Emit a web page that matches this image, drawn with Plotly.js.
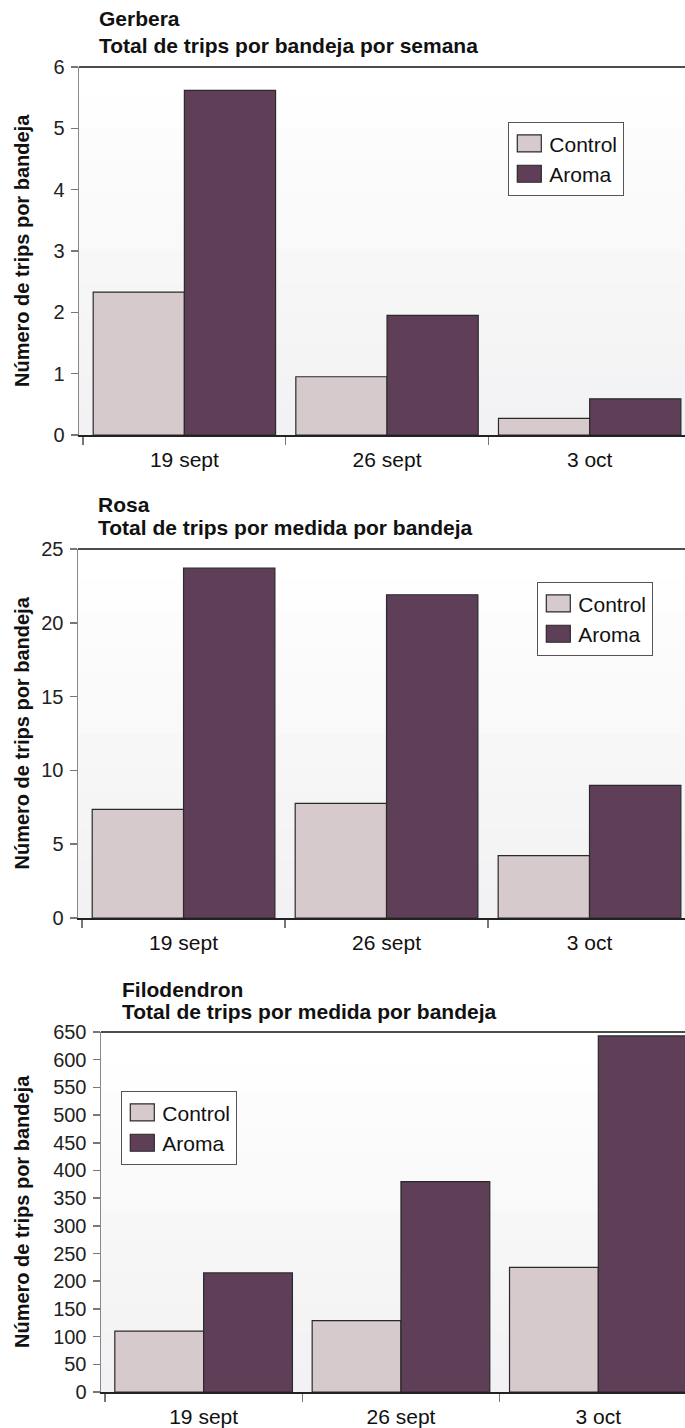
<!DOCTYPE html>
<html><head><meta charset="utf-8">
<script src="https://cdn.plot.ly/plotly-3.0.1.min.js"></script>
<style>html,body{margin:0;padding:0;overflow:hidden;background:#fff}</style>
</head><body><div id="chart" style="width:700px;height:1428px"></div>
<script>
// ---- data ----
const categories = ['19 sept', '26 sept', '3 oct'];
const seriesNames = ['Control', 'Aroma'];
const gerberaControl = [2.33, 0.95, 0.27];
const gerberaAroma = [5.62, 1.95, 0.59];
const rosaControl = [7.36, 7.77, 4.22];
const rosaAroma = [23.7, 21.9, 8.99];
const filoControl = [110, 129, 225];
const filoAroma = [215, 380, 643];
const panelTitles = ['Gerbera', 'Rosa', 'Filodendron'];
const panelSubtitles = ['Total de trips por bandeja por semana', 'Total de trips por medida por bandeja', 'Total de trips por medida por bandeja'];
const yTitle = 'Número de trips por bandeja';
const yRanges = [[0, 6], [0, 25], [0, 650]];
const yDticks = [1, 5, 50];

// ---- style / layout ----
const W = 700, H = 1428;
const FONT = 'Liberation Sans, Arial, Helvetica, sans-serif';
const colControl = 'rgb(214,202,205)';
const colAroma = 'rgb(94,63,87)';
const fx = px => px / W;
const fy = py => 1 - py / H;

const panels = [
  {ctrl: gerberaControl, aroma: gerberaAroma, xpx: [79, 691], ypx: [67, 435], leg: [508, 122], title: [97, 19, 45]},
  {ctrl: rosaControl, aroma: rosaAroma, xpx: [78, 691], ypx: [549, 918], leg: [537, 582], title: [96, 504, 527]},
  {ctrl: filoControl, aroma: filoAroma, xpx: [101, 697], ypx: [1032, 1392], leg: [121, 1091], title: [120, 989, 1011]}
];

const data = [];
const layout = {
  width: W, height: H,
  margin: {l: 0, r: 0, t: 0, b: 0},
  paper_bgcolor: '#fff', plot_bgcolor: '#fff',
  showlegend: true,
  bargap: 0.1, bargroupgap: 0,
  barmode: 'group',
  font: {family: FONT, color: '#111'},
  shapes: [], annotations: []
};

panels.forEach((p, i) => {
  const n = i === 0 ? '' : String(i + 1);
  const xa = 'x' + n, ya = 'y' + n, lg = 'legend' + n;
  [p.ctrl, p.aroma].forEach((vals, k) => {
    data.push({
      type: 'bar', x: categories, y: vals, name: seriesNames[k],
      xaxis: xa, yaxis: ya, legend: lg, legendgroup: seriesNames[k] + i,
      marker: {color: k === 0 ? colControl : colAroma, line: {color: '#2a2a2a', width: 1.2}},
      hoverinfo: 'x+y+name'
    });
  });
  layout['xaxis' + n] = {
    domain: [fx(p.xpx[0]), fx(p.xpx[1])], anchor: ya, type: 'category',
    range: [-0.52, 2.5], showgrid: false, zeroline: false,
    showline: true, linecolor: '#222', linewidth: 2,
    ticks: 'outside', tickson: 'boundaries', ticklen: 8, tickcolor: '#777', tickwidth: 1.5,
    tickfont: {size: 21, color: '#111', family: FONT}, ticklabelstandoff: 5, fixedrange: true
  };
  layout['yaxis' + n] = {
    domain: [fy(p.ypx[1]), fy(p.ypx[0])], anchor: xa,
    range: yRanges[i], dtick: yDticks[i], tick0: 0, showgrid: false, zeroline: false,
    showline: true, linecolor: '#888', linewidth: 1.5,
    ticks: 'outside', ticklen: 7, tickcolor: '#777', tickwidth: 1.5,
    tickfont: {size: 20, color: '#222', family: FONT}, ticklabelstandoff: 2, fixedrange: true
  };
  layout[lg] = {
    x: fx(p.leg[0]), y: fy(p.leg[1]), xanchor: 'left', yanchor: 'top',
    bgcolor: '#fff', bordercolor: '#555', borderwidth: 1.3,
    font: {size: 21, color: '#111', family: FONT}, tracegroupgap: 3, traceorder: 'normal',
    itemwidth: 30
  };
  // soft vertical gradient of the plotting area
  const N = 12;
  for (let s = 0; s < N; s++) {
    const t = s / (N - 1);
    const c = Math.round(242 + (255 - 242) * t);
    const c2 = Math.round(241 + (255 - 241) * t);
    layout.shapes.push({type: 'rect', xref: xa + ' domain', yref: ya + ' domain', x0: 0, x1: 1,
      y0: s / N, y1: (s + 1) / N, fillcolor: `rgb(${c},${c2},${Math.round(243 + 12 * t)})`,
      line: {width: 0}, layer: 'below'});
  }
  // top frame line
  layout.shapes.push({type: 'line', xref: xa + ' domain', yref: ya + ' domain', x0: 0, x1: 1, y0: 1, y1: 1,
    line: {color: '#111', width: 1.5}});
  // titles
  layout.annotations.push({text: '<b>' + panelTitles[i] + '</b>', xref: 'paper', yref: 'paper',
    x: fx(p.title[0]), y: fy(p.title[1]), xanchor: 'left', yanchor: 'middle', showarrow: false,
    font: {size: 21, color: '#111', family: FONT}});
  layout.annotations.push({text: '<b>' + panelSubtitles[i] + '</b>', xref: 'paper', yref: 'paper',
    x: fx(p.title[0]), y: fy(p.title[2]), xanchor: 'left', yanchor: 'middle', showarrow: false,
    font: {size: 21, color: '#111', family: FONT}});
  // y axis title
  layout.annotations.push({text: '<b>' + yTitle + '</b>', xref: 'paper', yref: 'paper',
    x: fx(22), y: fy((p.ypx[0] + p.ypx[1]) / 2), xanchor: 'center', yanchor: 'middle',
    textangle: -90, showarrow: false, font: {size: 20, color: '#111', family: FONT}});
});

Plotly.newPlot('chart', data, layout, {displayModeBar: false, staticPlot: true}).then(gd => {
  // larger legend swatches like the original (all three legends)
  document.querySelectorAll('.legendpoints path').forEach(el => {
    el.setAttribute('d', 'M12,8.5H-12V-8.5H12Z');
  });
});
</script>
</body></html>
